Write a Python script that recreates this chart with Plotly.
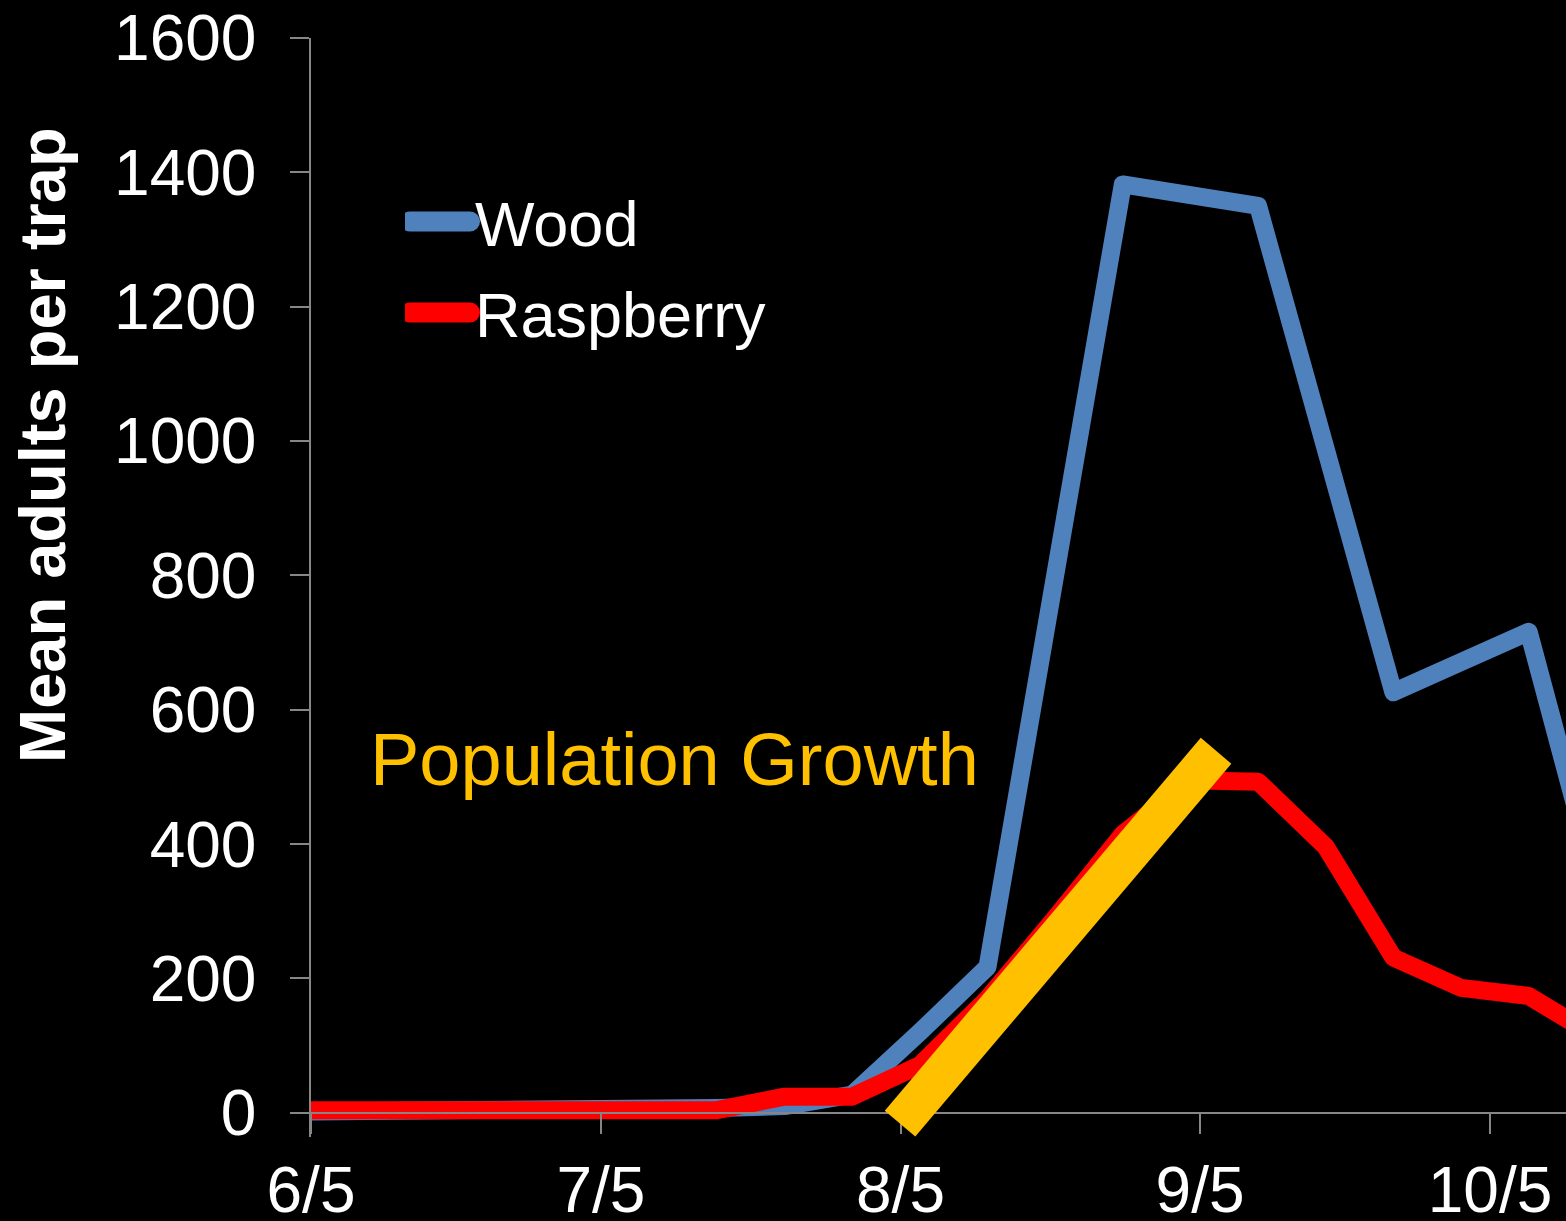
import plotly.graph_objects as go

# ---- data ----
dates = ["2011-06-05", "2011-06-12", "2011-06-19", "2011-06-26", "2011-07-03",
         "2011-07-10", "2011-07-17", "2011-07-24", "2011-07-31", "2011-08-07",
         "2011-08-14", "2011-08-21", "2011-08-28", "2011-09-04", "2011-09-11",
         "2011-09-18", "2011-09-25", "2011-10-02", "2011-10-09", "2011-10-16"]
wood = [2, 2, 2, 2, 2, 3, 7, 10, 27, 120, 217, 800, 1382, 1366, 1350,
        988, 626, 671, 716, 340]
raspberry = [4, 4, 4, 4, 4, 4, 4, 24, 24, 71, 170, 290, 415, 495, 493,
             396, 231, 186, 174, 113]

tick_dates = ["2011-06-05", "2011-07-05", "2011-08-05", "2011-09-05", "2011-10-05"]
tick_labels = ["6/5", "7/5", "8/5", "9/5", "10/5"]
y_ticks = [0, 200, 400, 600, 800, 1000, 1200, 1400, 1600]

# annotation arrow ("Population Growth") endpoints
growth_x = ["2011-08-04 22:48", "2011-09-06 15:36"]
growth_y = [-16, 539]

x_range = ["2011-06-05", "2011-10-12 20:40"]
y_range = [-36, 1600]

FONT = "Liberation Sans, Arial, sans-serif"
AXIS_GRAY = "#868686"

fig = go.Figure()
fig.add_trace(go.Scatter(x=dates, y=wood, name="Wood", mode="lines",
                         line=dict(color="#4F81BD", width=18), legend="legend"))
fig.add_trace(go.Scatter(x=dates, y=raspberry, name="Raspberry", mode="lines",
                         line=dict(color="#FF0000", width=18), legend="legend2"))

fig.add_shape(type="line", xref="x", yref="y",
              x0=growth_x[0], y0=growth_y[0], x1=growth_x[1], y1=growth_y[1],
              line=dict(color="#FFC000", width=40), layer="above")

fig.add_annotation(text="Population Growth", xref="paper", yref="paper",
                   x=(368 - 311) / 1255, y=(1137 - 760) / 1099,
                   xanchor="left", yanchor="middle", showarrow=False,
                   font=dict(family=FONT, size=74, color="#FFC000"))

fig.add_annotation(text="<b>Mean adults per trap</b>", xref="paper", yref="paper",
                   x=(42 - 311) / 1255, y=(1137 - 445) / 1099,
                   xanchor="center", yanchor="middle", textangle=-90,
                   showarrow=False,
                   font=dict(family=FONT, size=65, color="white"))

legend_style = dict(xanchor="left", yanchor="top",
                    font=dict(family=FONT, size=63, color="white"),
                    bgcolor="rgba(0,0,0,0)", itemwidth=60)

fig.update_layout(
    width=1566, height=1221,
    paper_bgcolor="black", plot_bgcolor="black",
    margin=dict(l=311, r=0, t=38, b=84, autoexpand=False),
    font=dict(family=FONT, color="white"),
    showlegend=True,
    legend=dict(x=(405 - 311) / 1255, y=(1137 - 174) / 1099, **legend_style),
    legend2=dict(x=(405 - 311) / 1255, y=(1137 - 265) / 1099, **legend_style),
    xaxis=dict(type="date", range=x_range, tickvals=tick_dates, ticktext=tick_labels,
               showgrid=False, zeroline=False, showline=True, linecolor=AXIS_GRAY,
               linewidth=1.5, ticks="outside", ticklen=20, tickcolor=AXIS_GRAY,
               tickwidth=1.5, anchor="free", position=36 / 1636, automargin=False,
               tickfont=dict(family=FONT, size=64, color="white"),
               ticklabelstandoff=2),
    yaxis=dict(range=y_range, tickvals=y_ticks, showgrid=False, zeroline=False,
               showline=True, linecolor=AXIS_GRAY, linewidth=1.5, ticks="outside",
               ticklen=19, tickcolor=AXIS_GRAY, tickwidth=1.5, automargin=False,
               tickfont=dict(family=FONT, size=64, color="white"),
               ticklabelstandoff=21),
)

post_js = """
document.body.style.margin = '0';
document.body.style.overflow = 'hidden';
var gd = document.getElementById('{plot_id}');
function restyleLines() {
  gd.querySelectorAll('.legendlines path').forEach(function (p) {
    p.style.strokeWidth = '20px';
    p.style.strokeLinecap = 'round';
  });
  gd.querySelectorAll('.scatterlayer .js-line').forEach(function (p) {
    p.style.strokeLinejoin = 'round';
  });
}
restyleLines();
gd.on('plotly_afterplot', restyleLines);
"""

fig.write_html("out.html", post_script=post_js,
               config={"displayModeBar": False})
